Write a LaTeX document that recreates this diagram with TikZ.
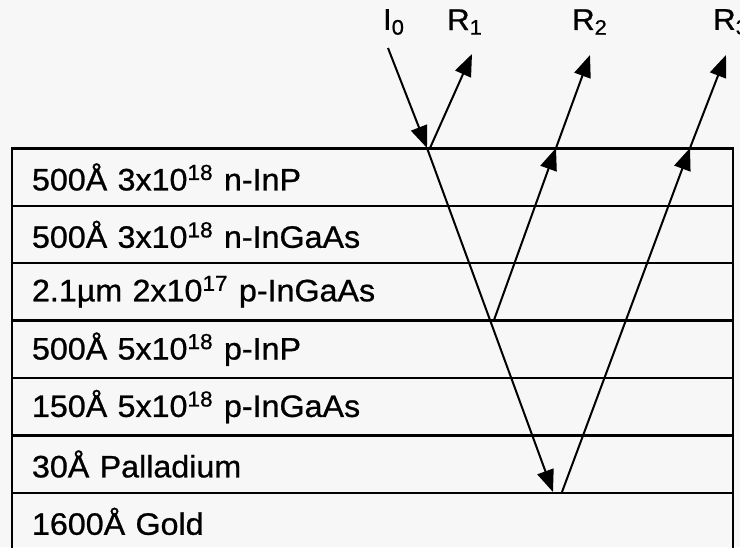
\documentclass[tikz,border=0pt]{standalone}
\usepackage{fontspec}
\setmainfont{Liberation Sans}[FakeStretch=1.04,FakeBold=0.8]
\usetikzlibrary{arrows.meta}
\begin{document}
\begin{tikzpicture}[x=0.5pt,y=-0.5pt,
  layer/.style={draw=black,line width=1.2pt,rectangle,minimum width=360.5pt,minimum height=28.7pt,
    text width=340.5pt,inner xsep=10pt,inner ysep=0pt,align=left,font=\fontsize{15.5}{18}\selectfont},
  lbl/.style={font=\fontsize{15}{17}\selectfont,inner sep=0pt},
  ray/.style={line width=1pt},
  tip/.style={-{Triangle[length=11pt,width=8.5pt]}}]
\useasboundingbox (0,0) rectangle (740,547);
\fill[black!3] (0,0) rectangle (740,547);
\clip (0,0) rectangle (740,547);
% layers
\node[layer] (L1) at (372.5,177) {500Å 3x10\textsuperscript{18} n-InP};
\node[layer] (L2) at (372.5,234.4) {500Å 3x10\textsuperscript{18} n-InGaAs};
\node[layer] (L3) at (372.5,291.8) {2.1µm 2x10\textsuperscript{17} p-InGaAs};
\node[layer] (L4) at (372.5,349.2) {500Å 5x10\textsuperscript{18} p-InP};
\node[layer] (L5) at (372.5,406.6) {150Å 5x10\textsuperscript{18} p-InGaAs};
\node[layer] (L6) at (372.5,464) {30Å Palladium};
\node[layer] (L7) at (372.5,521.4) {1600Å Gold};
% labels
\node[lbl] (I0) at (394,22) {I\textsubscript{0}};
\node[lbl] (R1) at (465,22) {R\textsubscript{1}};
\node[lbl] (R2) at (590,22) {R\textsubscript{2}};
\node[lbl] (R3) at (731,22) {R\textsubscript{3}};
% ray points
\coordinate (i0) at (388,48);
\coordinate (p1) at (427,148);
\coordinate (p1r) at (430,148);
\coordinate (r1) at (472,54);
\coordinate (p3) at (553,492);
\coordinate (p2) at (494,320);
\coordinate (q2) at (556,148);
\coordinate (r2) at (590,55);
\coordinate (p3r) at (562,492);
\coordinate (q3) at (690,148);
\coordinate (r3) at (726,55);
% rays
\draw[ray,tip] (i0) -- (p1);
\draw[ray,tip] (p1) -- (p3);
\draw[ray,tip] (p1r) -- (r1);
\draw[ray,tip] (p2) -- (q2);
\draw[ray,tip] (q2) -- (r2);
\draw[ray,tip] (p3r) -- (q3);
\draw[ray,tip] (q3) -- (r3);
\end{tikzpicture}
\end{document}
